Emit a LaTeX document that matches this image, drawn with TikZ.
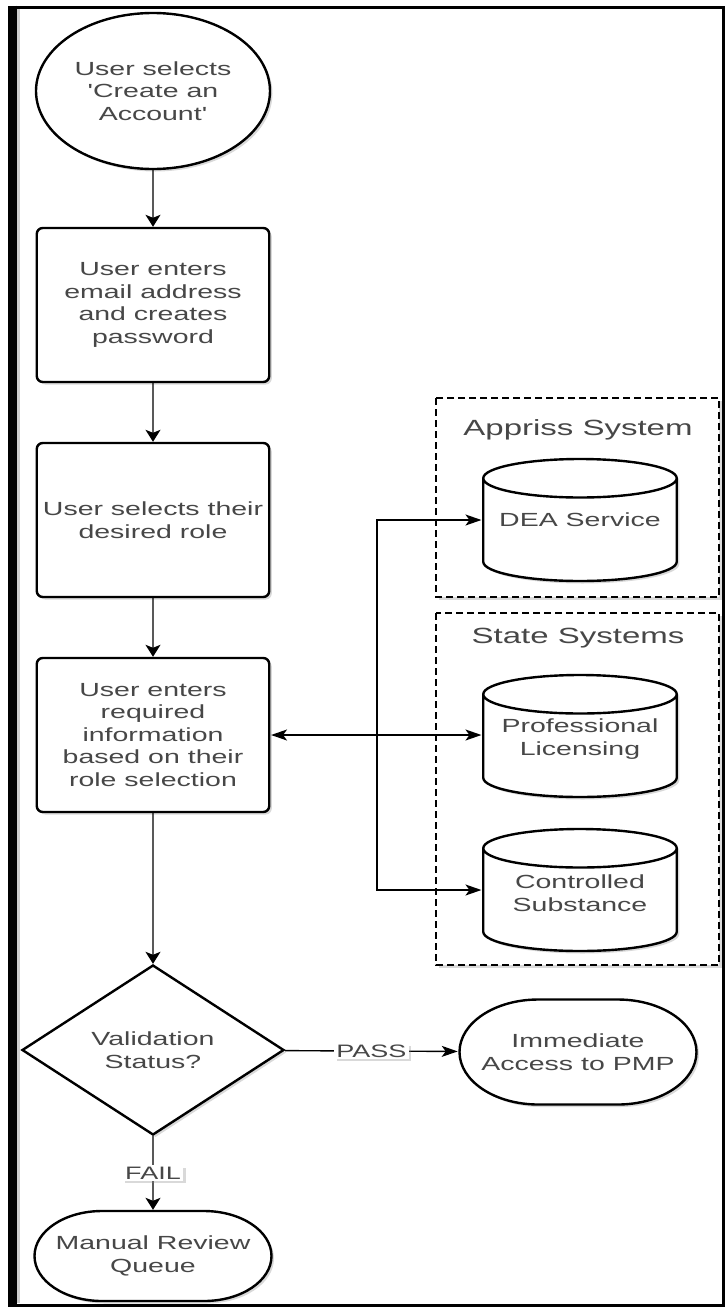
\documentclass[tikz,border=0pt]{standalone}
\usepackage{fontspec}
\setmainfont{Liberation Sans}
\usetikzlibrary{shapes.geometric,shapes.misc,arrows.meta,shadows}
\definecolor{txtgray}{HTML}{474747}

\tikzset{
  stretched/.style={xscale=1.5, transform shape},
  softshadow/.style={drop shadow={shadow xshift=2.5pt, shadow yshift=-2.5pt, opacity=0.3}},
  base/.style={stretched, draw, line width=2.4pt, fill=white, text=txtgray,
    font=\fontsize{19}{22.5}\selectfont, align=center, inner sep=0pt, softshadow},
  startnode/.style={base, circle, minimum size=156pt},
  process/.style={base, rectangle, rounded corners=6pt, minimum width=155pt, minimum height=154pt},
  decision/.style={base, diamond, minimum width=175pt, minimum height=170pt},
  terminal/.style={base, rounded rectangle, minimum width=158pt, minimum height=105pt},
  database/.style={base, cylinder, shape border rotate=90, aspect=0.35, text width=110pt,
    minimum width=129pt, minimum height=122pt, anchor=shape center},
  dbtext/.style={stretched, text=txtgray, font=\fontsize{19}{22.5}\selectfont, align=center},
  grouptitle/.style={stretched, text=txtgray, font=\fontsize{22}{26}\selectfont},
  groupbox/.style={draw, line width=1.3pt, dash pattern=on 7pt off 4pt, fill=white, softshadow},
  vflow/.style={line width=1.4pt, -{Stealth[length=12pt,width=15pt,inset=3pt]}},
  hflow/.style={line width=1.4pt, -{Stealth[length=16pt,width=11pt,inset=4pt]}},
  edgelabel/.style={stretched, fill=white, text=txtgray, inner sep=1.5pt,
    font=\fontsize{18}{20}\selectfont, softshadow}
}

\begin{document}
\begin{tikzpicture}[x=1pt, y=-1pt]
  \useasboundingbox (0,0) rectangle (726,1309);
  % frame
  \draw[line width=3pt] (13,7) rectangle (723,1305);
  \draw[black!20, line width=3pt] (18.5,9) -- (18.5,1303);
  \draw[line width=9pt] (12.5,5.5) -- (12.5,1306.5);

  % outside systems
  \draw[groupbox] (436,398) rectangle (719,597);
  \node[grouptitle] (apprissT) at (578,430) {Appriss System};
  \draw[groupbox] (436,613) rectangle (719,965);
  \node[grouptitle] (stateT) at (578,638) {State Systems};

  \node[database] (dea)  at (580,520) {};
  \node[dbtext] (deaT) at (dea.shape center) {DEA Service};
  \node[database] (prof) at (580,736) {};
  \node[dbtext] (profT) at ([yshift=-3pt]prof.shape center) {Professional\\Licensing};
  \node[database] (ctrl) at (580,890) {};
  \node[dbtext] (ctrlT) at ([yshift=-3pt]ctrl.shape center) {Controlled\\Substance};

  % main flow
  \node[startnode] (start) at (153,91) {User selects\\\textquotesingle Create an\\Account\textquotesingle};
  \node[process] (email) at (153,305) {User enters\\email address\\and creates\\password};
  \node[process] (role) at (153,520) {User selects their\\desired role};
  \node[process] (info) at (153,735) {User enters\\required\\information\\based on their\\role selection};
  \node[decision] (check) at (153,1050) {Validation\\Status?};
  \node[terminal] (pass) at (578,1052) {Immediate\\Access to PMP};
  \node[terminal, minimum height=90pt] (review) at (153,1256) {Manual Review\\Queue};

  \draw[vflow] (start) -- (email);
  \draw[vflow] (email) -- (role);
  \draw[vflow] (role) -- (info);
  \draw[vflow] (info) -- (check);
  \draw[hflow] (check) -- node[edgelabel] (passL) {PASS} (pass);
  \draw[vflow] (check) -- node[edgelabel] (failL) {FAIL} (review);

  % lookups
  \coordinate (bus) at (377,735);
  \draw[line width=1.4pt, {Stealth[length=16pt,width=11pt,inset=4pt]}-{Stealth[length=16pt,width=11pt,inset=4pt]}]
    (info.east) -- (info.east -| prof.west);
  \draw[hflow] (bus) |- (dea.shape center -| dea.west);
  \draw[hflow] (bus) |- (ctrl.shape center -| ctrl.west);
\end{tikzpicture}
\end{document}
